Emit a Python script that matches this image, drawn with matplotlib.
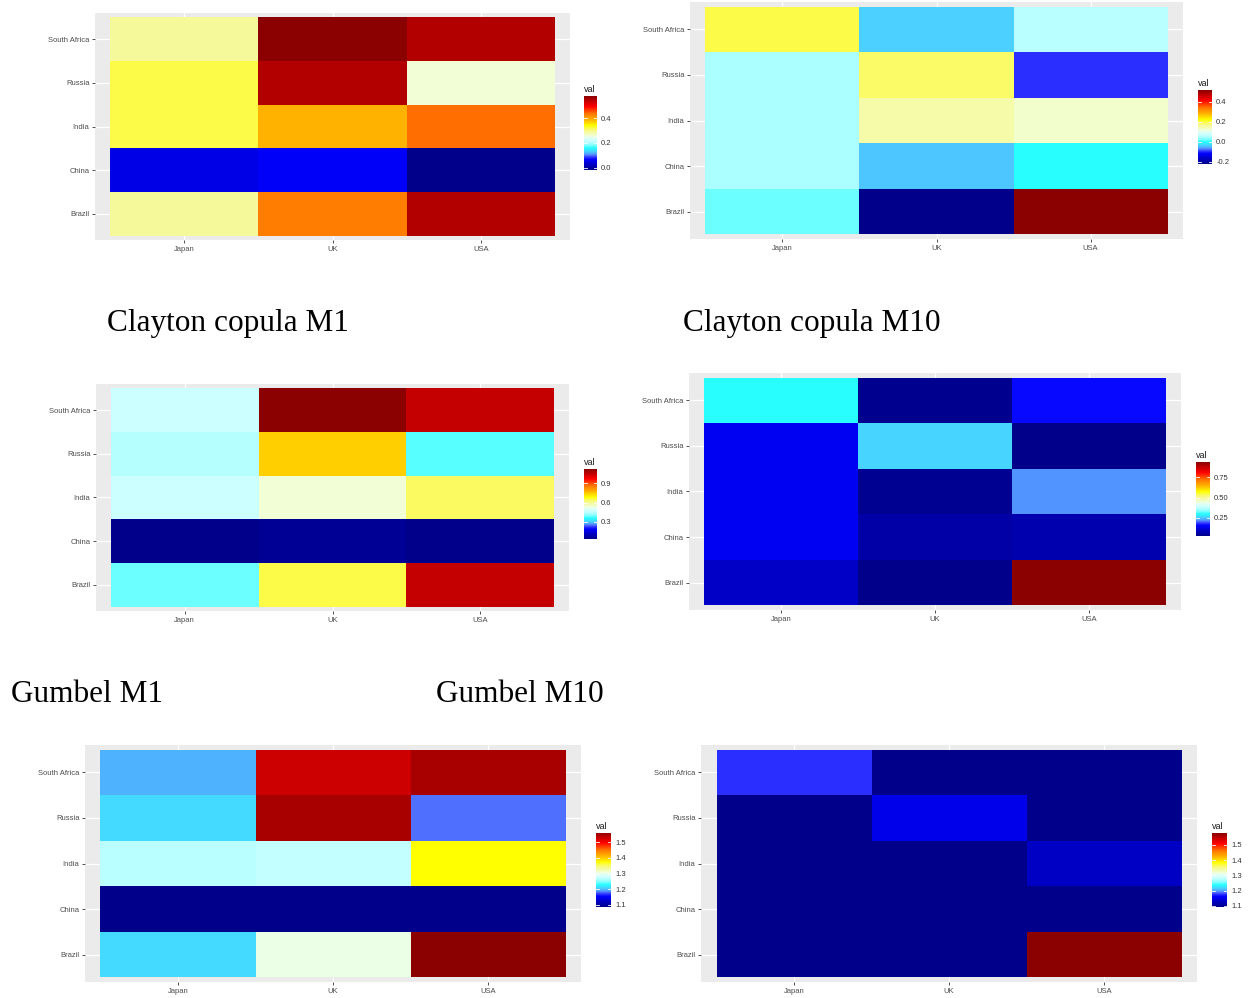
import numpy as np
import matplotlib
matplotlib.use('Agg')
import matplotlib.pyplot as plt
from matplotlib.colors import LinearSegmentedColormap

# canvas size in pixels
W, H = 1248, 998

countries = ['Brazil', 'China', 'India', 'Russia', 'South Africa']  # bottom -> top
markets = ['Japan', 'UK', 'USA']

# rows follow `countries`, columns follow `markets`
top_left = [[0.29, 0.43, 0.55],
            [0.05, 0.06, -0.02],
            [0.32, 0.39, 0.44],
            [0.32, 0.55, 0.26],
            [0.29, 0.58, 0.55]]
top_right = [[0.02, -0.22, 0.52],
             [0.05, -0.04, 0.00],
             [0.05, 0.15, 0.13],
             [0.05, 0.19, -0.094],
             [0.20, -0.035, 0.06]]
clayton_m1 = [[0.39, 0.65, 1.04],
              [0.04, 0.05, 0.036],
              [0.47, 0.54, 0.64],
              [0.44, 0.74, 0.38],
              [0.47, 1.12, 1.04]]
clayton_m10 = [[0.10, 0.025, 0.94],
               [0.14, 0.06, 0.07],
               [0.14, 0.035, 0.22],
               [0.14, 0.26, 0.025],
               [0.30, 0.03, 0.16]]
gumbel_m1 = [[1.21, 1.30, 1.558],
             [1.087, 1.088, 1.087],
             [1.265, 1.27, 1.37],
             [1.21, 1.54, 1.18],
             [1.195, 1.52, 1.54]]
gumbel_m10 = [[1.093, 1.093, 1.578],
              [1.093, 1.093, 1.093],
              [1.093, 1.093, 1.13],
              [1.093, 1.15, 1.093],
              [1.175, 1.093, 1.093]]

# legend breaks for each panel
ticks_tl = [0.0, 0.2, 0.4]
labels_tl = ['0.0', '0.2', '0.4']
ticks_tr = [-0.2, 0.0, 0.2, 0.4]
labels_tr = ['-0.2', '0.0', '0.2', '0.4']
ticks_c1 = [0.3, 0.6, 0.9]
labels_c1 = ['0.3', '0.6', '0.9']
ticks_c10 = [0.25, 0.50, 0.75]
labels_c10 = ['0.25', '0.50', '0.75']
ticks_g = [1.1, 1.2, 1.3, 1.4, 1.5]
labels_g = ['1.1', '1.2', '1.3', '1.4', '1.5']

# blue -> cyan -> pale -> yellow -> red palette
cmap = LinearSegmentedColormap.from_list('val', [
    (0.00, '#00008B'), (0.08, '#0000C8'), (0.14, '#0000FF'), (0.17, '#2C30FF'),
    (0.20, '#5478FF'), (0.22, '#50A8FF'), (0.25, '#4CCFFF'), (0.28, '#30F0FF'),
    (0.30, '#28FFFF'), (0.33, '#78FFFF'), (0.37, '#B4FFFF'), (0.41, '#D4FFFF'),
    (0.46, '#F0FFE0'), (0.49, '#F4FCB4'), (0.52, '#F6F998'), (0.56, '#FBFB5C'),
    (0.60, '#FFFF00'), (0.68, '#FFB400'), (0.76, '#FF7800'), (0.86, '#FF0000'),
    (1.00, '#8B0000')])


def box(x0, y0, x1, y1):
    return [x0 / W, 1 - y1 / H, (x1 - x0) / W, (y1 - y0) / H]


def panel(fig, data, bg, bar, ticks, labels):
    data = np.array(data)
    vmin, vmax = data.min(), data.max()
    ax = fig.add_axes(box(*bg))
    ax.set_facecolor('#EBEBEB')
    xe = np.arange(len(markets) + 1) + 0.5
    ye = np.arange(len(countries) + 1) + 0.5
    ax.pcolormesh(xe, ye, data, cmap=cmap, vmin=vmin, vmax=vmax, zorder=2)
    ax.set_xlim(0.4, len(markets) + 0.6)
    ax.set_ylim(0.4, len(countries) + 0.6)
    ax.set_xticks(range(1, len(markets) + 1))
    ax.set_xticklabels(markets)
    ax.set_yticks(range(1, len(countries) + 1))
    ax.set_yticklabels(countries)
    ax.grid(color='white', lw=0.9, zorder=1)
    ax.set_axisbelow(True)
    for s in ax.spines.values():
        s.set_visible(False)
    ax.tick_params(length=2.5, width=0.6, color='#333333', labelsize=5.5,
                   labelcolor='#4D4D4D', pad=1.5)
    for t in ax.get_xticklabels() + ax.get_yticklabels():
        t.set_fontfamily('Liberation Sans')

    # colour bar legend
    cax = fig.add_axes(box(*bar))
    grad = np.linspace(vmin, vmax, 256).reshape(-1, 1)
    cax.imshow(grad, cmap=cmap, vmin=vmin, vmax=vmax, aspect='auto',
               origin='lower', extent=(0, 1, vmin, vmax))
    for t in ticks:
        cax.plot([0, 0.2], [t, t], color='white', lw=0.6)
        cax.plot([0.8, 1], [t, t], color='white', lw=0.6)
    cax.set_xlim(0, 1)
    cax.set_ylim(vmin, vmax)
    cax.set_xticks([])
    cax.yaxis.tick_right()
    cax.set_yticks(ticks)
    cax.set_yticklabels(labels)
    cax.tick_params(axis='y', length=0, pad=3, labelsize=5.5, labelcolor='#333333')
    for t in cax.get_yticklabels():
        t.set_fontfamily('Liberation Sans')
    for s in cax.spines.values():
        s.set_visible(False)
    fig.text(bar[0] / W, 1 - (bar[1] - 2) / H, 'val', fontsize=6.5,
             family='Liberation Sans', color='#1A1A1A', ha='left', va='bottom')


fig = plt.figure(figsize=(W / 100, H / 100), dpi=100)
fig.patch.set_facecolor('white')

panel(fig, top_left, (95, 13, 570, 240), (584, 96, 597, 170), ticks_tl, labels_tl)
panel(fig, top_right, (690, 2, 1183, 239), (1198, 90, 1212, 164), ticks_tr, labels_tr)
panel(fig, clayton_m1, (96, 384, 569, 611), (584, 469, 597, 539), ticks_c1, labels_c1)
panel(fig, clayton_m10, (689, 373, 1181, 610), (1196, 462, 1210, 536), ticks_c10, labels_c10)
panel(fig, gumbel_m1, (85, 745, 581, 982), (596, 833, 611, 907), ticks_g, labels_g)
panel(fig, gumbel_m10, (701, 745, 1197, 982), (1212, 833, 1227, 907), ticks_g, labels_g)

captions = [('Clayton copula M1', 107, 323), ('Clayton copula M10', 683, 323),
            ('Gumbel M1', 11, 695), ('Gumbel M10', 436, 695)]
for txt, x, y in captions:
    fig.text(x / W, 1 - y / H, txt, fontsize=22.5, family='Liberation Serif',
             color='black', ha='left', va='center')

fig.savefig('out.png', dpi=100)
